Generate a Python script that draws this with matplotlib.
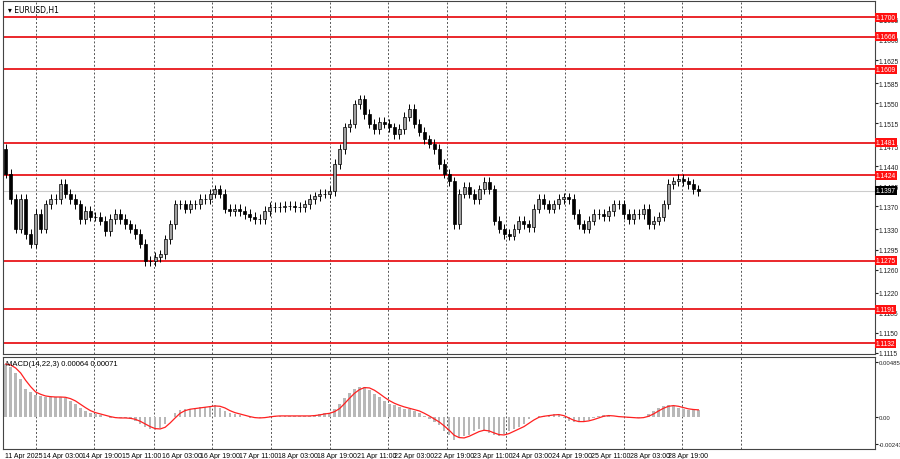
import numpy as np
import matplotlib
matplotlib.use("Agg")
import matplotlib.pyplot as plt

plt.rcParams["font.family"] = ["Liberation Sans", "DejaVu Sans"]

# hourly closes (one value per ~1.35 h step)
closes = [
    1.1427, 1.1383, 1.1331, 1.1383, 1.1322, 1.1305, 1.1357, 1.1331, 1.1374, 1.1383,
    1.1383, 1.1409, 1.1392, 1.1383, 1.1374, 1.1348, 1.1362, 1.1352, 1.1352, 1.1345,
    1.1327, 1.1348, 1.1357, 1.1348, 1.1339, 1.1331, 1.1322, 1.1305, 1.1275, 1.1275,
    1.1282, 1.1287, 1.1313, 1.1339, 1.1374, 1.1374, 1.1366, 1.1374, 1.1374, 1.1383,
    1.1383, 1.1392, 1.1400, 1.1392, 1.1366, 1.1362, 1.1366, 1.1362, 1.1357, 1.1352,
    1.1348, 1.1348, 1.1362, 1.1369, 1.1369, 1.1369, 1.1371, 1.1371, 1.1369, 1.1369,
    1.1374, 1.1383, 1.1388, 1.1392, 1.1392, 1.1397, 1.1444, 1.1470, 1.1508, 1.1514,
    1.1548, 1.1557, 1.1531, 1.1514, 1.1505, 1.1517, 1.1514, 1.1508, 1.1496, 1.1505,
    1.1526, 1.1540, 1.1514, 1.1500, 1.1487, 1.1479, 1.1470, 1.1444, 1.1427, 1.1414,
    1.1339, 1.1392, 1.1404, 1.1392, 1.1383, 1.1400, 1.1413, 1.1400, 1.1345, 1.1331,
    1.1322, 1.1319, 1.1331, 1.1345, 1.1339, 1.1334, 1.1366, 1.1383, 1.1374, 1.1366,
    1.1374, 1.1383, 1.1386, 1.1383, 1.1357, 1.1339, 1.1331, 1.1345, 1.1357, 1.1357,
    1.1353, 1.1362, 1.1374, 1.1374, 1.1357, 1.1348, 1.1357, 1.1357, 1.1366, 1.1339,
    1.1345, 1.1352, 1.1374, 1.1409, 1.1414, 1.1418, 1.1414, 1.1409, 1.1400, 1.1397,
]
# MACD main line (x1e-4)
macd_e4 = [
    46.7, 44.1, 38.8, 33.5, 24.7, 22.1, 19.4, 18.5, 17.6, 17.6,
    17.6, 17.6, 16.8, 14.1, 11.5, 7.9, 5.3, 3.5, 2.6, 1.8,
    0.0, -0.9, -0.9, -0.9, -0.9, -1.8, -3.5, -6.2, -8.8, -10.6,
    -11.5, -9.7, -6.2, 0.0, 3.5, 6.2, 7.1, 7.1, 7.9, 8.8,
    8.8, 9.7, 10.6, 7.9, 5.3, 3.5, 2.6, 1.8, 0.0, -0.9,
    -0.9, -0.9, 0.0, 0.9, 0.9, 0.9, 0.9, 0.9, 0.9, 0.9,
    0.9, 0.9, 1.8, 2.6, 3.5, 3.5, 7.1, 11.5, 16.8, 21.2,
    24.7, 26.5, 26.5, 23.8, 20.3, 17.6, 14.1, 11.5, 10.6, 8.8,
    7.1, 7.1, 5.3, 3.5, 0.9, -1.8, -4.4, -7.1, -12.3, -15.9,
    -20.3, -18.5, -16.8, -15.9, -12.3, -10.6, -12.3, -14.1, -15.9, -16.8,
    -15.0, -12.3, -10.6, -8.8, -6.2, -1.8, 0.0, 0.9, 0.9, 1.8,
    2.6, 1.8, -0.9, -3.5, -4.4, -4.4, -3.5, -2.6, -0.9, 0.9,
    1.8, 0.9, 0.0, 0.0, 0.0, -0.9, -0.9, -0.9, 0.0, 2.6,
    5.3, 7.9, 9.7, 10.6, 9.7, 7.9, 7.1, 6.4, 6.2, 6.2,
]
levels = [1.1700, 1.1666, 1.1609, 1.1481, 1.1424, 1.1275, 1.1191, 1.1132]
price_ticks = [1.1695, 1.1660, 1.1625, 1.1585, 1.1550, 1.1515, 1.1475, 1.1440,
               1.1405, 1.1370, 1.1330, 1.1295, 1.1260, 1.1220, 1.1185, 1.1150, 1.1115]
date_labels = ["11 Apr 2025", "14 Apr 03:00", "14 Apr 19:00", "15 Apr 11:00", "16 Apr 03:00",
               "16 Apr 19:00", "17 Apr 11:00", "18 Apr 03:00", "18 Apr 19:00", "21 Apr 11:00",
               "22 Apr 03:00", "22 Apr 19:00", "23 Apr 11:00", "24 Apr 03:00", "24 Apr 19:00",
               "25 Apr 11:00", "28 Apr 03:00", "28 Apr 19:00"]
# bar index where each date label starts
date_pos = [-0.2, 7.4, 15.4, 23.4, 31.4, 39.0, 46.8, 54.6, 62.4, 70.4,
            78.0, 86.0, 93.8, 101.6, 109.6, 117.4, 125.2, 133.0]
# daily separators (bar index)
grid_pos = [6.0, 17.8, 29.8, 41.4, 53.2, 65.0, 76.8, 88.6, 100.4, 112.2, 124.0, 135.8, 147.6]

closes = np.array(closes)
opens = np.r_[1.1470, closes[:-1]]
macd = np.array(macd_e4) * 1e-4
signal = np.convolve(np.r_[macd[0], macd[0], macd], np.ones(3) / 3, mode="valid")
n = len(closes)
x = np.arange(n)

fig = plt.figure(figsize=(9, 4.6), dpi=100)
ax = fig.add_axes([0.003, 1 - 355 / 460, 0.969, 353 / 460])
ax2 = fig.add_axes([0.003, 10 / 460, 0.969, 92 / 460])

xl = (-0.6, 174.4)
for a in (ax, ax2):
    a.set_xlim(*xl)
    for p in grid_pos:
        a.axvline(p, color="#555555", ls=(0, (2, 2)), lw=0.7, zorder=0)
    a.tick_params(axis="y", which="both", right=True, left=False, labelright=True,
                  labelleft=False, labelsize=4.8, length=2, pad=1, colors="#222222")
    a.tick_params(axis="x", length=0)
    for s in a.spines.values():
        s.set_color("#444444")
        s.set_linewidth(0.8)

# candles
hi = np.maximum(opens, closes) + 0.0008
lo = np.minimum(opens, closes) - 0.0008
for i in range(n):
    up = closes[i] >= opens[i]
    ax.vlines(x[i], lo[i], hi[i], color="black", lw=0.7, zorder=3)
    body = abs(closes[i] - opens[i]) or 0.00005
    ax.bar(x[i], body, 0.6, bottom=min(opens[i], closes[i]),
           color="#a0a0a0" if up else "black", edgecolor="black", lw=0.5, zorder=4)

ax.set_ylim(1.1113, 1.17279)
ax.set_yticks(price_ticks)
ax.set_yticklabels([f"{t:.4f}" for t in price_ticks])
ax.set_xticks([])
for lv in levels:
    ax.axhline(lv, color="#e8161a", lw=1.3, zorder=2)
    ax.text(1.001, lv, f"{lv:.4f}", transform=ax.get_yaxis_transform(), fontsize=4.8,
            color="white", va="center", ha="left",
            bbox=dict(boxstyle="square,pad=0.15", fc="#ff1010", ec="none"), zorder=6)
last = closes[-1]
ax.axhline(last, color="#cccccc", lw=0.8, zorder=1)
ax.text(1.001, last, f"{last:.4f}", transform=ax.get_yaxis_transform(), fontsize=4.8,
        color="white", va="center", ha="left",
        bbox=dict(boxstyle="square,pad=0.15", fc="black", ec="none"), zorder=6)
ax.text(0.006, 0.99, "\u25be EURUSD,H1", transform=ax.transAxes, fontsize=5.5,
        va="top", ha="left", family=["DejaVu Sans"])

# MACD panel
ax2.bar(x, macd, 0.5, color="#b8b8b8", zorder=2)
ax2.plot(x, signal, color="#ff2020", lw=0.9, zorder=3)
ax2.set_ylim(-0.00283, 0.00529)
ax2.set_yticks([0.00485, 0.0, -0.00243])
ax2.set_yticklabels(["0.00485", "0.00", "-0.00243"])
ax2.tick_params(axis="y", labelsize=4.3)
ax2.set_xticks(date_pos)
ax2.set_xticklabels(date_labels, fontsize=5, ha="left")
ax2.tick_params(axis="x", pad=2)
ax2.text(0.004, 0.97, "MACD(14,22,3) 0.00064 0.00071", transform=ax2.transAxes,
         fontsize=5.5, va="top", ha="left")

fig.savefig("out.png", dpi=100, facecolor="white")
